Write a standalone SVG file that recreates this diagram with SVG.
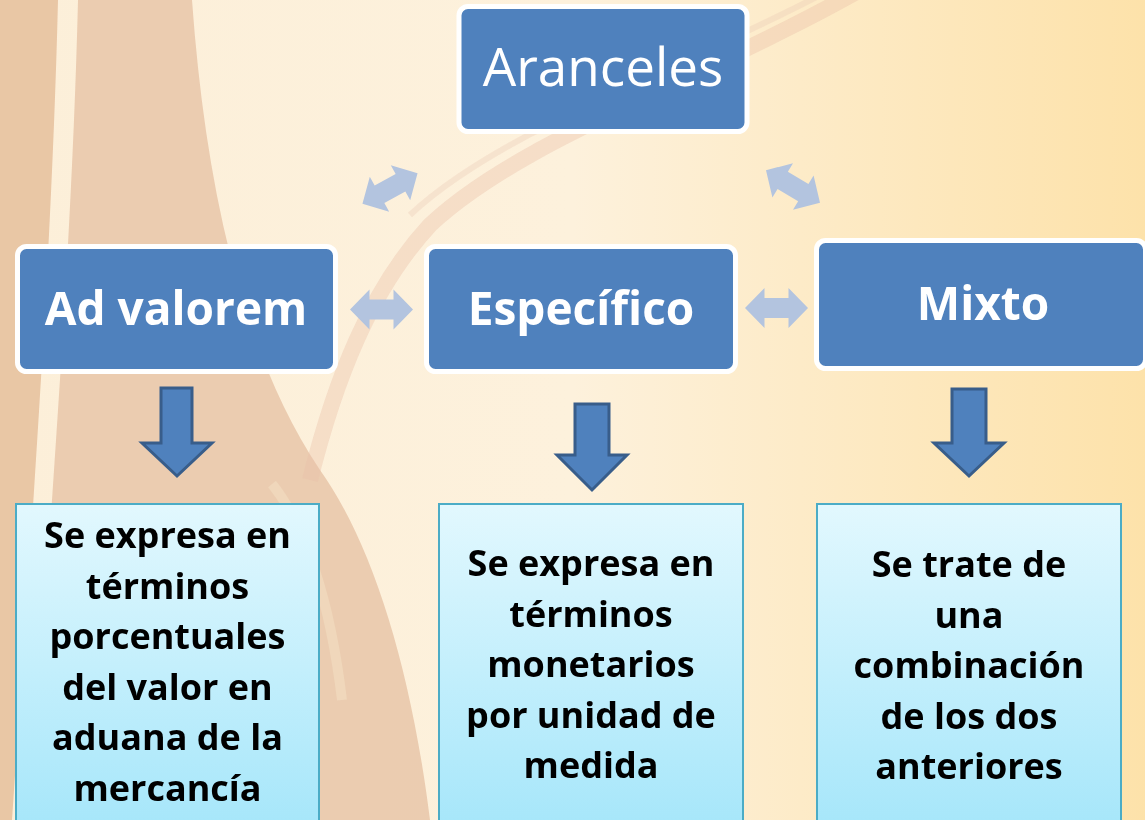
<svg xmlns="http://www.w3.org/2000/svg" width="1145" height="820" viewBox="0 0 1145 820">
<defs>
<linearGradient id="bg" x1="0" y1="0" x2="1" y2="0">
<stop offset="0" stop-color="#fcefd9"/>
<stop offset="0.5" stop-color="#fdf1dc"/>
<stop offset="1" stop-color="#fde2aa"/>
</linearGradient>
<linearGradient id="box" x1="0" y1="0" x2="0" y2="1">
<stop offset="0" stop-color="#e2f8fe"/>
<stop offset="1" stop-color="#a5e6fa"/>
</linearGradient>
<polygon id="dbl" points="-31.5,0 -12,-20 -12,-10 12,-10 12,-20 31.5,0 12,20 12,10 -12,10 -12,20"/>
</defs>
<style>
.hdr{fill:#4f81bd;stroke:#ffffff;stroke-width:5}
.hdrt{font-family:"Open Sans","Noto Sans",sans-serif;font-weight:700;font-size:46px;fill:#ffffff;text-anchor:middle}
.desc{fill:url(#box);stroke:#4bacc6;stroke-width:2}
.dt{font-family:"Open Sans","Noto Sans",sans-serif;font-weight:700;font-size:36px;fill:#000000;text-anchor:middle}
.down{fill:#4f81bd;stroke:#385d8a;stroke-width:3;stroke-linejoin:miter}
.link{fill:#b3c4df}
</style>
<rect x="0" y="0" width="1145" height="820" fill="url(#bg)"/>
<g id="background" opacity="0.95">
<path d="M0,0 H58 C52,250 32,520 12,820 H0 Z" fill="#e8c4a3"/>
<path d="M78,0 H192 C205,180 240,350 320,470 C370,540 410,660 430,820 H30 C50,520 72,250 78,0 Z" fill="#eacaae"/>
<path d="M272,484 C305,525 330,600 342,700" fill="none" stroke="#f3dcc2" stroke-width="10" opacity="0.6"/>
<path d="M860,-10 C700,80 520,140 430,225 C370,290 335,380 310,480" fill="none" stroke="#e9bfa8" stroke-width="16" opacity="0.4"/>
<path d="M830,-10 C680,70 500,130 410,215" fill="none" stroke="#ecc9b4" stroke-width="6" opacity="0.35"/>
</g>
<g id="connectors">
<use href="#dbl" class="link" transform="translate(390,188.5) rotate(-29)"/>
<use href="#dbl" class="link" transform="translate(793,186.5) rotate(31)"/>
<use href="#dbl" class="link" transform="translate(381.5,309.5)"/>
<use href="#dbl" class="link" transform="translate(776.5,308)"/>
<polygon class="down" points="161,388 192,388 192,443 212,443 177,476 142,443 161,443"/>
<polygon class="down" points="575,404 609,404 609,455 627,455 592,490 557,455 575,455"/>
<polygon class="down" points="952,389 986,389 986,443 1004,443 969,476 934,443 952,443"/>
</g>
<g id="aranceles">
<rect class="hdr" x="459" y="6.5" width="288" height="125" rx="9"/>
<text x="603" y="86" font-family="'Open Sans','Noto Sans',sans-serif" font-size="53" fill="#ffffff" text-anchor="middle">Aranceles</text>
</g>
<g id="ad-valorem">
<rect class="hdr" x="17.5" y="246.5" width="318" height="125" rx="9"/>
<text class="hdrt" x="176" y="325">Ad valorem</text>
</g>
<g id="especifico">
<rect class="hdr" x="426.5" y="246.5" width="309" height="125" rx="9"/>
<text class="hdrt" x="581" y="325">Específico</text>
</g>
<g id="mixto">
<rect class="hdr" x="816.5" y="240.5" width="329" height="128" rx="9"/>
<text class="hdrt" x="983" y="320">Mixto</text>
</g>
<g id="desc-ad-valorem">
<rect class="desc" x="16" y="504" width="303" height="330"/>
<text class="dt" x="167.5" y="548">Se expresa en</text>
<text class="dt" x="167.5" y="598.5">términos</text>
<text class="dt" x="167.5" y="649">porcentuales</text>
<text class="dt" x="167.5" y="699.5">del valor en</text>
<text class="dt" x="167.5" y="750">aduana de la</text>
<text class="dt" x="167.5" y="800.5">mercancía</text>
</g>
<g id="desc-especifico">
<rect class="desc" x="439" y="504" width="304" height="330"/>
<text class="dt" x="591" y="576">Se expresa en</text>
<text class="dt" x="591" y="626.5">términos</text>
<text class="dt" x="591" y="677">monetarios</text>
<text class="dt" x="591" y="727.5">por unidad de</text>
<text class="dt" x="591" y="778">medida</text>
</g>
<g id="desc-mixto">
<rect class="desc" x="817" y="504" width="304" height="330"/>
<text class="dt" x="969" y="577">Se trate de</text>
<text class="dt" x="969" y="627.5">una</text>
<text class="dt" x="969" y="678">combinación</text>
<text class="dt" x="969" y="728.5">de los dos</text>
<text class="dt" x="969" y="779">anteriores</text>
</g>
</svg>
